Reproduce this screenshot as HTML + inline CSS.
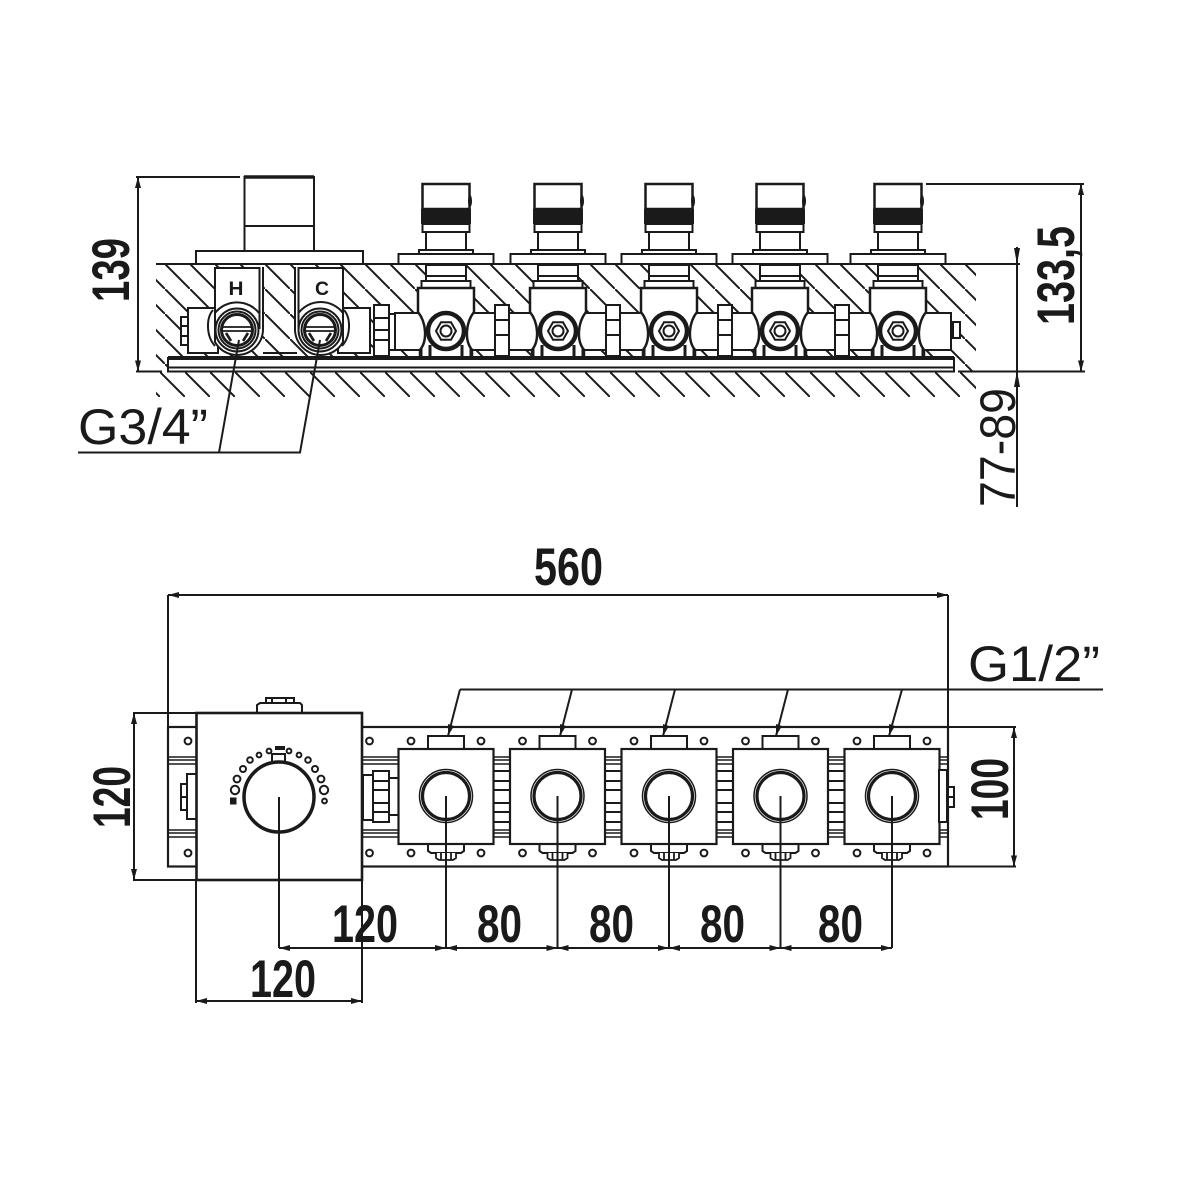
<!DOCTYPE html>
<html><head><meta charset="utf-8"><title>Diagram</title>
<style>html,body{margin:0;padding:0;background:#fff}svg{display:block}
text{font-family:"Liberation Sans",sans-serif;fill:#1a1a1a}
.b{font-weight:bold;font-size:53px}.r{font-size:50px}</style></head><body>
<svg width="1181" height="1181" viewBox="0 0 1181 1181" xmlns="http://www.w3.org/2000/svg">
<defs>
<pattern id="h1" patternUnits="userSpaceOnUse" width="25" height="25" patternTransform="translate(165 264)"><path d="M-2,-2L27,27" stroke="#1a1a1a" stroke-width="2" fill="none"/></pattern>
<pattern id="h2" patternUnits="userSpaceOnUse" width="25" height="25" patternTransform="translate(60 372)"><path d="M-2,-2L27,27" stroke="#1a1a1a" stroke-width="2" fill="none"/></pattern>
<marker id="a" viewBox="0 0 11 6" refX="11" refY="3" markerWidth="11" markerHeight="6" markerUnits="userSpaceOnUse" orient="auto-start-reverse"><path d="M11,3L0,0V6Z" fill="#1a1a1a"/></marker>
<g id="valve" fill="#fff" stroke="#1a1a1a" stroke-width="2">
<rect x="-23.5" y="184" width="47" height="25" stroke-width="2.5"/>
<ellipse cx="24" cy="201" rx="2" ry="6" fill="#1a1a1a" stroke="none"/>
<rect x="-23.5" y="224" width="47" height="8"/>
<rect x="-25" y="209" width="50" height="15" fill="#1a1a1a" stroke="none"/>
<rect x="-20" y="232" width="40" height="18"/>
<rect x="-27" y="250" width="54" height="4"/>
<rect x="-47.5" y="254" width="95" height="10"/>
<rect x="-20" y="265" width="40" height="16"/>
<path d="M-20,276H20" fill="none"/>
<rect x="-24.5" y="281" width="49" height="7.5"/>
<path d="M-28,288H28V312C20,322 18,340 26,350V358H-26V350C-18,340 -20,322 -28,312Z" stroke-width="2.5"/>
<path d="M-25,358V348M-16,358V345M16,358V345M25,358V348" fill="none" stroke-width="3"/>
<circle cx="0" cy="331" r="18" stroke-width="4.5"/>
<path d="M10,331L5,322.3H-5L-10,331L-5,339.7H5Z" stroke-width="2"/>
<circle cx="0" cy="331" r="5.5" stroke-width="2"/>
</g>
<g id="box" fill="#fff" stroke="#1a1a1a" stroke-width="2">
<rect x="-18" y="736" width="36" height="13"/>
<path d="M-18,844V851L-15,853H15L18,851V844"/>
<path d="M-10,853V858L-7,860H7L10,858V853M-5,853V860M0,853V860M5,853V860" stroke-width="1.8"/>
<rect x="-47.5" y="749" width="95" height="95" stroke-width="2.2"/>
<circle cx="0" cy="796" r="26.5" stroke-width="1.5"/>
<circle cx="0" cy="796" r="23.5" stroke-width="3.2"/>
<circle cx="-35" cy="741" r="3.4"/><circle cx="35" cy="741" r="3.4"/>
<circle cx="-35" cy="853" r="3.4"/><circle cx="35" cy="853" r="3.4"/>
</g>
<g id="port" fill="#fff" stroke="#1a1a1a" stroke-width="2">
<circle cx="0" cy="0" r="21.5" stroke-width="2"/>
<circle cx="0" cy="0" r="18.5" stroke-width="2"/>
<circle cx="0" cy="0" r="15.5" stroke-width="3"/>
<path d="M-14,-3H14M-14,1H14" fill="none" stroke-width="1.8"/>
<path d="M-11,3L-6,11M11,3L6,11" fill="none" stroke-width="2.6"/>
</g>
<g id="link" fill="#fff" stroke="#1a1a1a" stroke-width="2">
<rect x="0" y="771" width="17" height="51"/>
<path d="M0,781H17M0,790H17M0,803H17M0,812H17" fill="none"/>
</g>
</defs>

<!-- TOP VIEW -->
<rect x="156" y="264" width="820" height="108" fill="url(#h1)"/>
<rect x="156" y="372" width="820" height="25" fill="url(#h2)"/>
<path d="M156,264H1020" stroke="#1a1a1a" stroke-width="2" fill="none"/>

<g fill="#fff" stroke="#1a1a1a" stroke-width="2">
<rect x="181" y="317" width="7" height="28"/><path d="M181,326H188M181,336H188" fill="none"/>
<rect x="188" y="308" width="30" height="45"/>
<rect x="338" y="308" width="32" height="45"/>
<path d="M263,353H297" fill="none"/>
<path d="M213,310C206,318 206,336 215,346" />
<path d="M344,310C351,318 351,336 342,346" />
<rect x="389" y="314" width="6" height="36"/>
<rect x="374" y="305" width="15" height="51"/><path d="M374,318H389M374,330H389M374,340H389" fill="none"/>
<rect x="395" y="313" width="556" height="37" stroke-width="2"/>
<rect x="953" y="322" width="7" height="16"/>
</g>

<g fill="#fff" stroke="#1a1a1a" stroke-width="2">
<rect x="495" y="305" width="14" height="51"/><path d="M495,320H509M495,335H509" fill="none"/>
<rect x="606" y="305" width="14" height="51"/><path d="M606,320H620M606,335H620" fill="none"/>
<rect x="718" y="305" width="14" height="51"/><path d="M718,320H732M718,335H732" fill="none"/>
<rect x="835" y="305" width="14" height="51"/><path d="M835,320H849M835,335H849" fill="none"/>
</g>

<use href="#valve" x="446"/><use href="#valve" x="558"/><use href="#valve" x="669"/><use href="#valve" x="780"/><use href="#valve" x="898"/>

<!-- H / C -->
<g fill="#fff" stroke="#1a1a1a" stroke-width="2">
<path d="M263,267V330A26,26 0 0 1 237,355A25,25 0 0 1 215,342V268H259"/>
<rect x="215" y="268" width="44.5" height="60"/>
<path d="M295,267V330A26,26 0 0 0 320,355A25,25 0 0 0 343,342V268H299"/>
<rect x="298.500" y="268" width="44.5" height="60"/>
<path d="M215,313A28,28 0 0 1 259,313" />
<path d="M298.500,313A28,28 0 0 1 343,313" />
</g>
<use href="#port" x="237" y="330"/><use href="#port" x="320" y="330"/>
<text x="236" y="295" text-anchor="middle" font-weight="bold" font-size="19" textLength="15" lengthAdjust="spacingAndGlyphs">H</text>
<text x="322" y="295" text-anchor="middle" font-weight="bold" font-size="19" textLength="14" lengthAdjust="spacingAndGlyphs">C</text>

<!-- plate -->
<rect x="168" y="358" width="786" height="13.500" fill="#fff" stroke="#1a1a1a" stroke-width="2"/>
<path d="M168,358H954" stroke="#1a1a1a" stroke-width="4"/>
<path d="M168,367.500H954" stroke="#1a1a1a" stroke-width="2"/>

<!-- thermostat top -->
<g fill="#fff" stroke="#1a1a1a" stroke-width="2">
<rect x="244.500" y="177" width="69.500" height="74"/>
<path d="M244.500,226H314" fill="none"/>
<rect x="196" y="251" width="167" height="13"/>
</g>
<path d="M244,177H314" stroke="#1a1a1a" stroke-width="3.500"/>

<!-- top dims -->
<g fill="none" stroke="#1a1a1a" stroke-width="2">
<path d="M136,177H240M136,371.500H162"/>
<path d="M138,177V371.500" marker-start="url(#a)" marker-end="url(#a)"/>
<path d="M926,184H1084M958,371.500H1085"/>
<path d="M1081,184V371.500" marker-start="url(#a)" marker-end="url(#a)"/>
<path d="M1017,247V507"/>
<path d="M78,452.500H300L320,340M219,452.500L239,340"/>
</g>
<path d="M1017,264L1014,248H1020ZM1017,371L1014,387H1020Z" fill="#1a1a1a"/>
<text class="b" transform="translate(129 302) rotate(-90)" textLength="64" lengthAdjust="spacingAndGlyphs">139</text>
<text class="b" transform="translate(1074 325) rotate(-90)" textLength="99" lengthAdjust="spacingAndGlyphs">133,5</text>
<text class="r" transform="translate(1015 507) rotate(-90)" textLength="119" lengthAdjust="spacingAndGlyphs">77-89</text>
<text class="r" x="78" y="444" textLength="130" lengthAdjust="spacingAndGlyphs">G3/4”</text>

<!-- BOTTOM VIEW -->
<g fill="none" stroke="#1a1a1a" stroke-width="2">
<rect x="168" y="727" width="780" height="139.500" fill="#fff" stroke-width="2.200"/>
<path d="M168,757H948M168,760H948M168,764H948M168,830H948M168,833H948M168,837H948" stroke-width="1.600"/>
</g>
<g fill="#fff" stroke="#1a1a1a" stroke-width="2">
<rect x="181" y="784" width="6" height="26"/><path d="M181,797H187" fill="none"/>
<path d="M196,774H187V819H196"/>
<rect x="363" y="775" width="10" height="45"/>
<rect x="373" y="771" width="16" height="51"/><path d="M373,781H389M373,790H389M373,803H389M373,812H389" fill="none"/>
<rect x="389" y="778" width="10" height="37"/>
</g>
<use href="#link" x="493"/><use href="#link" x="604.500"/><use href="#link" x="716"/><use href="#link" x="828"/>
<use href="#box" x="446"/><use href="#box" x="557.500"/><use href="#box" x="669"/><use href="#box" x="780.500"/><use href="#box" x="892"/>
<g fill="#fff" stroke="#1a1a1a" stroke-width="2">
<rect x="939" y="770" width="8" height="52"/>
<rect x="947" y="787" width="7" height="20"/><path d="M947,797H954" fill="none"/>
<circle cx="188" cy="741" r="3.400"/><circle cx="188" cy="853" r="3.400"/>
<circle cx="369.500" cy="741" r="3.400"/><circle cx="369.500" cy="853" r="3.400"/>
</g>

<!-- thermostat front -->
<g fill="#fff" stroke="#1a1a1a" stroke-width="2">
<path d="M257,713V705L260,703H300L302,705V713"/>
<rect x="266" y="698" width="28" height="5"/><path d="M272,698V703M286,698V703" fill="none"/>
<rect x="196.500" y="713" width="165.500" height="167" stroke-width="2.600"/>
<rect x="272" y="754" width="13" height="9"/>
<g stroke-width="2">
<circle cx="235" cy="790" r="4.200"/><circle cx="237" cy="779" r="3.400"/><circle cx="243" cy="769" r="3"/><circle cx="250" cy="760" r="2.800"/><circle cx="259" cy="755" r="2.400"/><circle cx="269" cy="751" r="2.400"/>
<circle cx="289" cy="751" r="2.400"/><circle cx="299" cy="755" r="2.400"/><circle cx="308" cy="760" r="2.800"/><circle cx="315" cy="769" r="3"/><circle cx="321" cy="779" r="3.400"/><circle cx="324" cy="790" r="4.200"/><circle cx="324.500" cy="801" r="2.400"/>
</g>
<circle cx="279" cy="797" r="35" stroke-width="3.500"/>
</g>
<rect x="230" y="797.500" width="6.500" height="7" fill="#1a1a1a"/>
<rect x="275" y="746" width="10" height="4" fill="#1a1a1a"/>

<!-- bottom dims -->
<g fill="none" stroke="#1a1a1a" stroke-width="2">
<path d="M168,595V727M948,595V866"/>
<path d="M168,595H948" marker-start="url(#a)" marker-end="url(#a)"/>
<path d="M460,689.500H1103M572,689.500L560,736M675,689.500L663,736M788,689.500L776,736M902,689.500L889,736M460,689.500L448,736"/>
<path d="M133,713H196M133,880H196"/>
<path d="M134,713V880" marker-start="url(#a)" marker-end="url(#a)"/>
<path d="M948,727H1016M948,866.500H1016"/>
<path d="M1014,727V866.500" marker-start="url(#a)" marker-end="url(#a)"/>
<path d="M279,797V948M446,796V948M557.500,796V948M669,796V948M780.500,796V948M892,796V948"/>
<path d="M279,948H446" marker-start="url(#a)" marker-end="url(#a)"/>
<path d="M446,948H557.500" marker-start="url(#a)" marker-end="url(#a)"/>
<path d="M557.500,948H669" marker-start="url(#a)" marker-end="url(#a)"/>
<path d="M669,948H780.500" marker-start="url(#a)" marker-end="url(#a)"/>
<path d="M780.500,948H892" marker-start="url(#a)" marker-end="url(#a)"/>
<path d="M196,880V1003M362,880V1003"/>
<path d="M196,1001H362" marker-start="url(#a)" marker-end="url(#a)"/>
</g>
<g fill="#1a1a1a">
<path d="M448,736L448,724L454,726Z"/><path d="M560,736L560,724L566,726Z"/><path d="M663,736L663,724L669,726Z"/><path d="M776,736L776,724L782,726Z"/><path d="M889,736L889,724L895,726Z"/>
</g>
<text class="b" x="534" y="585" textLength="69" lengthAdjust="spacingAndGlyphs">560</text>
<text class="r" x="968" y="681" textLength="132" lengthAdjust="spacingAndGlyphs">G1/2”</text>
<text class="b" transform="translate(130 828) rotate(-90)" textLength="62" lengthAdjust="spacingAndGlyphs">120</text>
<text class="b" transform="translate(1008 820) rotate(-90)" textLength="62" lengthAdjust="spacingAndGlyphs">100</text>
<text class="b" x="332" y="942" textLength="66" lengthAdjust="spacingAndGlyphs">120</text>
<text class="b" x="477" y="942" textLength="45" lengthAdjust="spacingAndGlyphs">80</text>
<text class="b" x="589" y="942" textLength="45" lengthAdjust="spacingAndGlyphs">80</text>
<text class="b" x="700" y="942" textLength="45" lengthAdjust="spacingAndGlyphs">80</text>
<text class="b" x="818" y="942" textLength="45" lengthAdjust="spacingAndGlyphs">80</text>
<text class="b" x="250" y="997" textLength="66" lengthAdjust="spacingAndGlyphs">120</text>
</svg>
</body></html>
